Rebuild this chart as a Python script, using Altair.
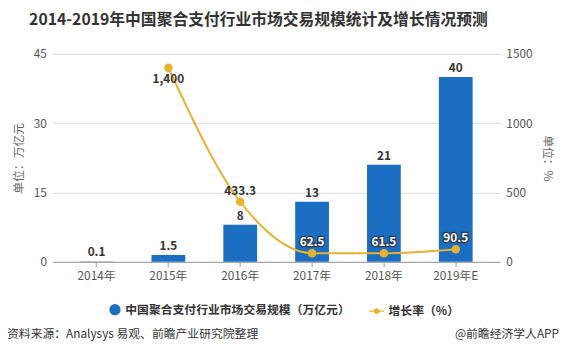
import altair as alt
import pandas as pd

years = ["2014年", "2015年", "2016年", "2017年", "2018年", "2019年E"]
scale_values = [0.1, 1.5, 8, 13, 21, 40]
growth_values = [None, 1400, 433.3, 62.5, 61.5, 90.5]

bar_name = "中国聚合支付行业市场交易规模（万亿元）"
line_name = "增长率（%）"

FONT = "Noto Sans CJK SC"
BLUE = "#1B6EC2"
GOLD = "#E8B231"

df = pd.DataFrame({"year": years, "scale": scale_values, "growth": growth_values,
                   "s1": bar_name, "s2": line_name})

x = alt.X("year:N", sort=years, title=None,
          scale=alt.Scale(paddingInner=0.53, paddingOuter=0.38),
          axis=alt.Axis(labelAngle=0, labelPadding=4, tickSize=5, tickColor="#999",
                        domainColor="#999", labelColor="#555", labelFontSize=12, grid=False))

ly = alt.Y("scale:Q", scale=alt.Scale(domain=[0, 45], nice=False),
           axis=alt.Axis(values=[0, 15, 30, 45], format="d", title="单位：万亿元", titlePadding=8,
                         titleColor="#666666", titleFontWeight="normal", titleFontSize=12,
                         labelColor="#555", labelFontSize=12, labelPadding=6, tickSize=0,
                         domain=False, gridColor="#DADADA"))

ry = alt.Y("growth:Q", scale=alt.Scale(domain=[0, 1500], nice=False),
           axis=alt.Axis(orient="right", values=[0, 500, 1000, 1500], format="d", title="单位：%",
                         titlePadding=9, titleColor="#666666", titleFontWeight="normal",
                         titleFontSize=12, labelColor="#555", labelFontSize=12, labelPadding=6,
                         tickSize=0, domain=False, grid=False))

base = alt.Chart(df)

bars = base.mark_bar().encode(
    x=x, y=ly,
    color=alt.Color("s1:N", scale=alt.Scale(range=[BLUE]),
                    legend=alt.Legend(title=None, orient="none", legendX=57, legendY=253,
                                      symbolType="circle", symbolSize=130,
                                      labelFontSize=12, labelFontWeight="bold", labelColor="#333",
                                      labelFont=FONT, labelLimit=400)),
)

bar_text = base.mark_text(dy=-9, fontWeight="bold", fontSize=12, color="#333", font=FONT).encode(
    x=x, y=ly, text=alt.Text("scale:Q"))

left = alt.layer(bars, bar_text)

gbase = base.transform_filter("datum.growth != null")

line = gbase.mark_line(interpolate="monotone", color=GOLD, strokeWidth=2).encode(x=x, y=ry)
pts = gbase.mark_circle(size=75, opacity=1).encode(
    x=x, y=ry,
    fill=alt.Fill("s2:N", scale=alt.Scale(range=[GOLD]),
                  legend=alt.Legend(title=None, orient="none", legendX=321, legendY=253,
                                    symbolType="M-1,-0.09H1V0.09H-1Z M0.38,0A0.38,0.38,0,1,1,-0.38,0A0.38,0.38,0,1,1,0.38,0",
                                    symbolSize=230, symbolStrokeWidth=0,
                                    labelFontSize=12, labelFontWeight="bold", labelColor="#333",
                                    labelFont=FONT)))

hi = gbase.transform_filter("datum.growth >= 1000")
mid = gbase.transform_filter("datum.growth >= 200 && datum.growth < 1000")
low = gbase.transform_filter("datum.growth < 200")

lab_hi = hi.mark_text(dy=12, fontWeight="bold", fontSize=12, color="#333", font=FONT).encode(
    x=x, y=ry, text=alt.Text("growth:Q", format=",~f"))
lab_mid = mid.mark_text(dy=-11, fontWeight="bold", fontSize=12, color="#333", font=FONT).encode(
    x=x, y=ry, text=alt.Text("growth:Q", format=",~f"))
lab_low_bg = low.mark_text(dy=-11, fontWeight="bold", fontSize=12, color="#333", stroke="#2a3a4a",
                           strokeWidth=2.5, font=FONT).encode(
    x=x, y=ry, text=alt.Text("growth:Q", format=",~f"))
lab_low = low.mark_text(dy=-11, fontWeight="bold", fontSize=12, color="#FFFFFF", font=FONT).encode(
    x=x, y=ry, text=alt.Text("growth:Q", format=",~f"))

right = alt.layer(line, pts, lab_hi, lab_mid, lab_low_bg, lab_low)

src_df = pd.DataFrame({"t": ["资料来源：Analysys 易观、前瞻产业研究院整理"]})
app_df = pd.DataFrame({"t": ["@前瞻经济学人APP"]})
footer_l = alt.Chart(src_df).mark_text(align="left", baseline="middle", fontSize=12,
                                        color="#333", font=FONT).encode(
    x=alt.value(-46), y=alt.value(284), text="t:N")
footer_r = alt.Chart(app_df).mark_text(align="right", baseline="middle", fontSize=12,
                                        color="#333", font=FONT).encode(
    x=alt.value(514), y=alt.value(284), text="t:N")

chart = alt.layer(left, right, footer_l, footer_r).resolve_scale(
    y="independent", color="independent", fill="independent"
).properties(
    width=454, height=211,
    title=alt.TitleParams("2014-2019年中国聚合支付行业市场交易规模统计及增长情况预测",
                          fontSize=16, fontWeight="bold", color="#333", font=FONT,
                          anchor="middle", dx=-18, offset=20),
    autosize=alt.AutoSizeParams(type="none"),
    padding={"left": 45, "top": 44, "right": 65, "bottom": 93},
).configure(font=FONT).configure_view(stroke=None).configure_axis(labelFont=FONT, titleFont=FONT)

chart.save("out.html", embed_options={"renderer": "svg", "actions": False})
